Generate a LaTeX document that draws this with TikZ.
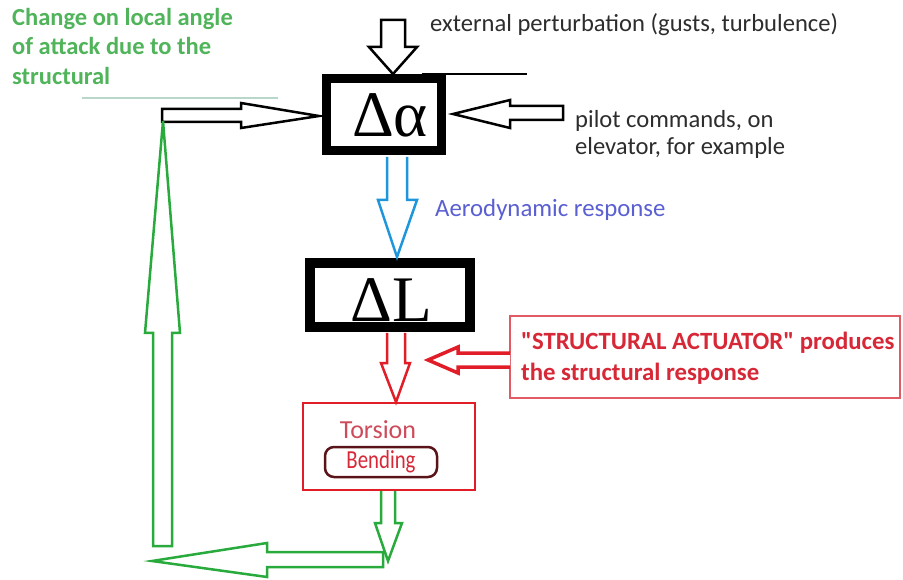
\documentclass[tikz,border=0pt]{standalone}
\usepackage{fontspec}
\setmainfont{Carlito}
\newfontfamily\grkfont{Liberation Serif}
\definecolor{gArrow}{RGB}{40,170,60}
\definecolor{gText}{RGB}{80,180,90}
\definecolor{gLine}{RGB}{185,215,200}
\definecolor{bArrow}{RGB}{30,150,220}
\definecolor{bText}{RGB}{90,95,210}
\definecolor{rMain}{RGB}{225,30,40}
\definecolor{rText}{RGB}{215,40,55}
\definecolor{rSoft}{RGB}{225,90,100}
\definecolor{tors}{RGB}{205,75,90}
\definecolor{maroon}{RGB}{90,20,25}
\definecolor{dgray}{RGB}{45,45,45}
\begin{document}
\begin{tikzpicture}[x=1pt,y=-1pt,
  txt/.style={inner sep=0pt, anchor=base west},
  greentxt/.style={txt, text=gText, font=\fontsize{24.5}{28}\selectfont\bfseries},
  graytxt/.style={txt, text=dgray, font=\fontsize{24.6}{28}\selectfont},
  redtxt/.style={txt, text=rText, font=\fontsize{24.8}{28}\selectfont\bfseries},
  blackarrow/.style={draw=black, line width=2.5pt, fill=white, line join=miter},
  greenarrow/.style={draw=gArrow, line width=2.5pt, fill=white},
  bluearrow/.style={draw=bArrow, line width=2.5pt, fill=white},
  redarrow/.style={draw=rMain, line width=2.5pt, fill=white},
  actarrow/.style={draw=rMain, line width=3.5pt, fill=white},
  bigbox/.style={draw=black, line width=9pt},
  symb/.style={inner sep=0pt, anchor=base, font=\grkfont\fontsize{65}{70}\selectfont}
]
\useasboundingbox (0,0) rectangle (903,580);
\fill[white] (0,0) rectangle (903,580);

% ---- main boxes
\draw[bigbox] (326,79) rectangle (441,151);
\node[symb] (da) at (390,137) {Δα};
\draw[black, line width=1.5pt] (422,74) -- (527,74);

\draw[bigbox, line width=10pt] (310,263) rectangle (470,327);
\node[symb] (dl) at (391,322) {ΔL};

\draw[rMain, line width=2pt] (303,403) rectangle (475,490);
\node[txt, text=tors, font=\fontsize{26}{28}\selectfont, anchor=base] (tor) at (378,438) {Torsion};
\draw[maroon, line width=2.5pt, rounded corners=9pt] (325,447) rectangle (437,477);
\node[txt, text=rText, font=\fontsize{26}{28}\selectfont, anchor=base] (ben) at (381,468) {\scalebox{0.8}[1]{Bending}};

% ---- actuator text box
\draw[rSoft, line width=1.5pt] (510,316) rectangle (900,398);
\node[redtxt] (act1) at (521,349) {\textquotedbl STRUCTURAL ACTUATOR\textquotedbl{} produces};
\node[redtxt] (act2) at (521,381) {the structural response};

% ---- labels
\node[greentxt] (g1) at (12,26) {Change on local angle};
\node[greentxt] (g2) at (12,55) {of attack due to the};
\node[greentxt] (g3) at (12,85) {structural};
\draw[gLine, line width=1.5pt] (82,98) -- (278,98);

\node[graytxt] (ext) at (430,32) {external perturbation (gusts, turbulence)};
\node[graytxt] (pil1) at (575,128) {pilot commands, on};
\node[graytxt] (pil2) at (575,155) {elevator, for example};
\node[txt, text=bText, font=\fontsize{24.8}{28}\selectfont] (aero) at (435,217) {Aerodynamic response};

% ---- block arrows
% external perturbation (down)
\draw[blackarrow] (381,20) -- (405,20) -- (405,47) -- (417,47) -- (393,74) -- (369,47) -- (381,47) -- cycle;
% pilot commands (left)
\draw[blackarrow] (563,106) -- (563,120) -- (510,120) -- (510,128) -- (453,114) -- (510,100) -- (510,106) -- cycle;
% feedback into delta alpha (right)
\draw[blackarrow] (162,109) -- (241,109) -- (241,103) -- (319,116) -- (241,128) -- (241,122) -- (162,122) -- cycle;
% green up arrow
\draw[greenarrow] (153,546) -- (153,333) -- (145,333) -- (163,121) -- (180,333) -- (172,333) -- (172,546) -- cycle;
% aerodynamic response (blue, down)
\draw[bluearrow] (387,157) -- (387,200) -- (378,200) -- (397,257) -- (417,200) -- (407,200) -- (407,157);
% red down arrow
\draw[redarrow] (387,333) -- (387,363) -- (381,363) -- (396,402) -- (410,363) -- (405,363) -- (405,333);
% structural actuator arrow (left)
\draw[actarrow] (510,353) -- (458,353) -- (458,347) -- (428,360) -- (458,373) -- (458,367) -- (510,367);
% green left arrow (bottom)
\draw[greenarrow] (383,552) -- (267,552) -- (267,543) -- (152,561) -- (267,577) -- (267,567) -- (383,567) -- cycle;
% green down arrow from torsion box
\draw[greenarrow] (381,491) -- (381,523) -- (375,523) -- (388,561) -- (402,523) -- (395,523) -- (395,491);
\end{tikzpicture}
\end{document}
